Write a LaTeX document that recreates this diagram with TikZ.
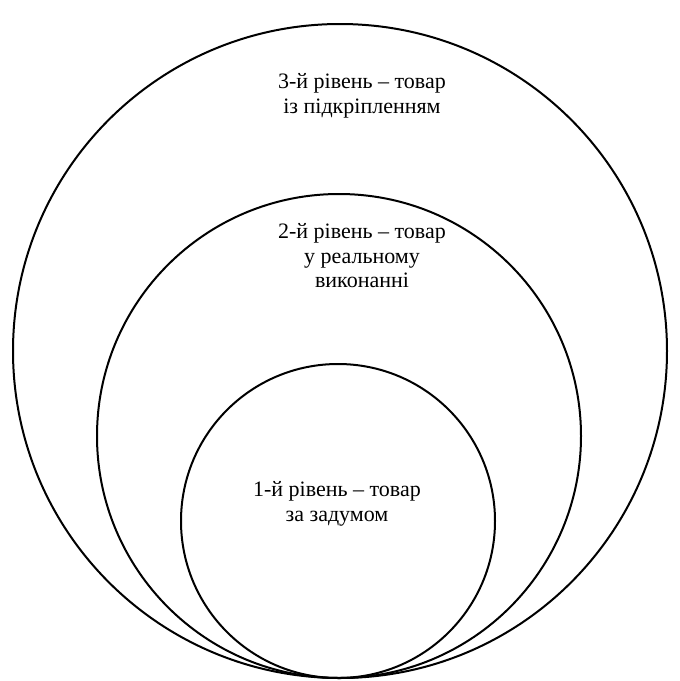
\documentclass[tikz,border=0pt]{standalone}
\usepackage{fontspec}
\setmainfont{Liberation Serif}
\usetikzlibrary{positioning}

\begin{document}
\begin{tikzpicture}[x=1pt,y=-1pt,line width=2pt]
    \tikzstyle{level} = [circle,draw=black,inner sep=0pt];
    \tikzstyle{leveltext} = [align=center,font=\fontsize{22}{24.5}\selectfont];
    \useasboundingbox (0,0) rectangle (680,681);
    \node[level,minimum size=654pt] (outer) at (340,351) {};
    \node[level,minimum size=484pt] (middle) at (339,436) {};
    \node[level,minimum size=314pt] (inner) at (338,521) {};
    \node[leveltext] (t3) at (362,96) {3-й рівень – товар\\із підкріпленням};
    \node[leveltext] (t2) at (362,256) {2-й рівень – товар\\у реальному\\виконанні};
    \node[leveltext] (t1) at (337,504) {1-й рівень – товар\\за задумом};
\end{tikzpicture}
\end{document}
